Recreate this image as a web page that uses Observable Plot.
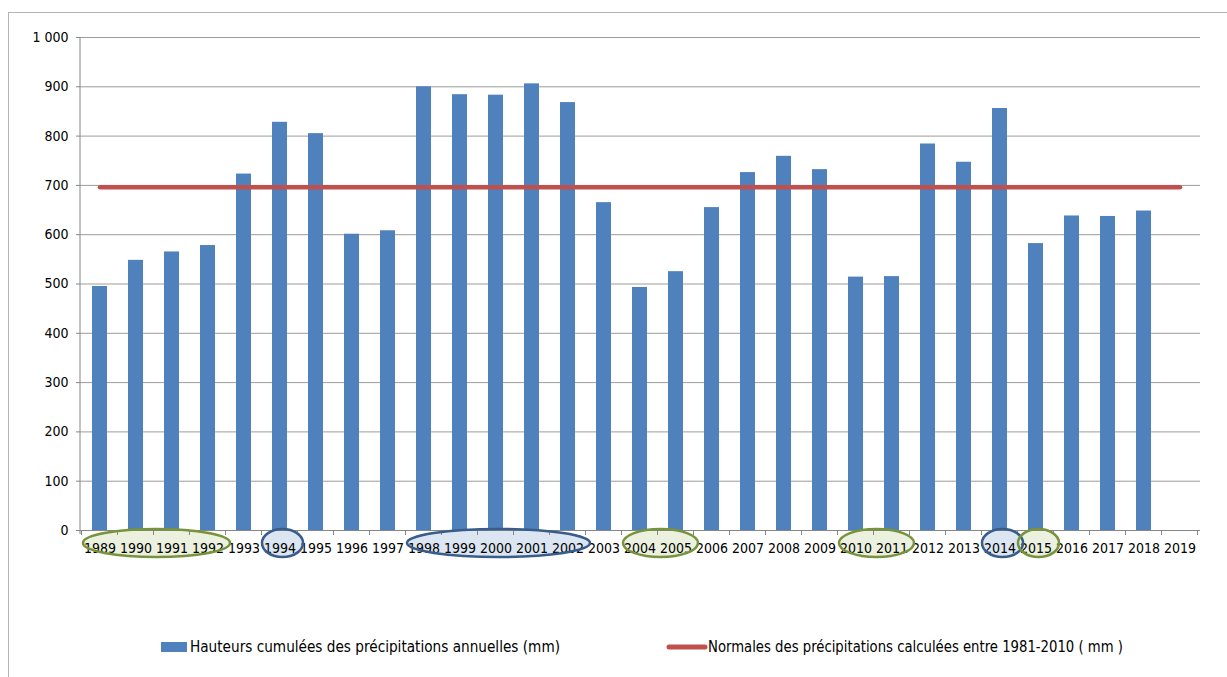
<!DOCTYPE html>
<html><head><meta charset="utf-8">
<script src="https://cdn.jsdelivr.net/npm/d3@7"></script>
<script src="https://cdn.jsdelivr.net/npm/@observablehq/plot@0.6"></script>
<style>
body{margin:0;background:#fff;font-family:"Liberation Sans Narrow","DejaVu Sans Condensed","Liberation Sans",sans-serif;}
#frame{position:absolute;left:8px;top:12px;width:1400px;height:800px;border-left:1px solid #b4b4b4;border-top:1px solid #b4b4b4;}
#chart{position:absolute;left:0;top:0;}
#legend{position:absolute;left:0;top:620px;}
</style></head><body>
<div id="frame"></div>
<div id="chart"></div>
<svg id="legend" width="1227" height="50"></svg>
<script>
// ---- data ----
const years = ["1989","1990","1991","1992","1993","1994","1995","1996","1997","1998","1999","2000","2001","2002","2003","2004","2005","2006","2007","2008","2009","2010","2011","2012","2013","2014","2015","2016","2017","2018","2019"];
const precip = [495,548,565,578,723,828,805,601,608,900,884,883,906,868,665,493,525,655,726,759,732,514,515,784,747,856,582,638,637,648,null];
const normalValue = 696;
const yTicks = [0,100,200,300,400,500,600,700,800,900,1000];
const seriesNames = ["Hauteurs cumulées des précipitations annuelles (mm)","Normales des précipitations calculées entre 1981-2010 ( mm )"];
const highlightFrom = ["1989","1994","1998","2004","2010","2014","2015"];
const highlightTo   = ["1992","1994","2002","2005","2011","2014","2015"];
const highlightKind = ["green","blue","blue","green","green","blue","green"];

const barColor = "#4F81BD", lineColor = "#C0504D";
const bars = years.map((y,i)=>({year:y, value:precip[i]})).filter(d=>d.value!=null);
const normals = years.map(y=>({year:y, value:normalValue}));

const fmt = d3.formatLocale({decimal:",",thousands:"\u00a0",grouping:[3],currency:["","€"]}).format(",");
const FONT = '"Liberation Sans Narrow","DejaVu Sans Condensed","Liberation Sans",sans-serif';

const plot = Plot.plot({
  width:1227, height:575,
  marginLeft:80, marginRight:27, marginTop:37, marginBottom:45,
  style:{fontFamily:FONT, fontSize:"14px", color:"#000", background:"transparent"},
  x:{domain:years, type:"band", paddingInner:0.58, paddingOuter:0.29, label:null},
  y:{domain:[0,1000], label:null},
  marks:[
    Plot.gridY(yTicks,{stroke:"#9c9c9c", strokeOpacity:1}),
    Plot.axisY(yTicks,{tickSize:4, tickPadding:8, tickFormat:fmt, stroke:"#868686", fill:"#000", label:null}),
    Plot.barY(bars,{x:"year", y:"value", fill:barColor}),
    Plot.ruleY([0],{stroke:"#868686"}),
    Plot.axisX({tickSize:0, tickPadding:13, label:null, fill:"#000"}),
    Plot.lineY(normals,{x:"year", y:"value", stroke:lineColor, strokeWidth:4.5, strokeLinecap:"round"})
  ]
});
document.getElementById("chart").appendChild(plot);

// ---- axis line, category boundary ticks, highlight ellipses ----
const sx = plot.scale("x"), sy = plot.scale("y");
const bw = sx.bandwidth, step = sx.step;
const svg = d3.select(plot);
const y0 = sy.apply(0), yTop = sy.apply(1000);
const left = sx.range[0], right = sx.range[1];
const center = y => sx.apply(y) + bw/2;

svg.append("line").attr("x1",left).attr("x2",left).attr("y1",yTop).attr("y2",y0+4)
  .attr("stroke","#868686");
const bounds = years.map(y => center(y) - step/2).concat([center(years[years.length-1]) + step/2]);
svg.append("g").selectAll("line").data(bounds).join("line")
  .attr("x1",d=>d).attr("x2",d=>d).attr("y1",y0).attr("y2",y0+5).attr("stroke","#868686");

const colors = {green:{stroke:"#77933C", fill:"#EBF1DE"}, blue:{stroke:"#385D8A", fill:"#DCE6F2"}};
const ell = highlightFrom.map((f,i)=>{
  const a = center(f), b = center(highlightTo[i]);
  return {cx:(a+b)/2 + 3, rx:(b-a)/2 + (a===b ? 20.5 : 19.5), kind:highlightKind[i]};
});
const cy = y0 + 13, ry = 14;
// fills beneath labels
const fillG = svg.insert("g", ":first-child");
fillG.selectAll("ellipse").data(ell).join("ellipse")
  .attr("cx",d=>d.cx).attr("cy",cy).attr("rx",d=>d.rx).attr("ry",ry)
  .attr("fill",d=>colors[d.kind].fill);
// strokes on top
svg.append("g").selectAll("ellipse").data(ell).join("ellipse")
  .attr("cx",d=>d.cx).attr("cy",cy).attr("rx",d=>d.rx).attr("ry",ry)
  .attr("fill","none").attr("stroke",d=>colors[d.kind].stroke).attr("stroke-width",2.5);

// ---- legend ----
const lg = d3.select("#legend").style("font-family",FONT).style("font-size","15px");
lg.append("rect").attr("x",161).attr("y",22).attr("width",26).attr("height",10).attr("fill",barColor);
lg.append("text").attr("x",190).attr("y",32).attr("textLength",370).attr("lengthAdjust","spacingAndGlyphs").text(seriesNames[0]);
lg.append("line").attr("x1",669).attr("x2",705).attr("y1",27).attr("y2",27)
  .attr("stroke",lineColor).attr("stroke-width",5).attr("stroke-linecap","round");
lg.append("text").attr("x",708).attr("y",32).attr("textLength",415).attr("lengthAdjust","spacingAndGlyphs").text(seriesNames[1]);
</script>
</body></html>
